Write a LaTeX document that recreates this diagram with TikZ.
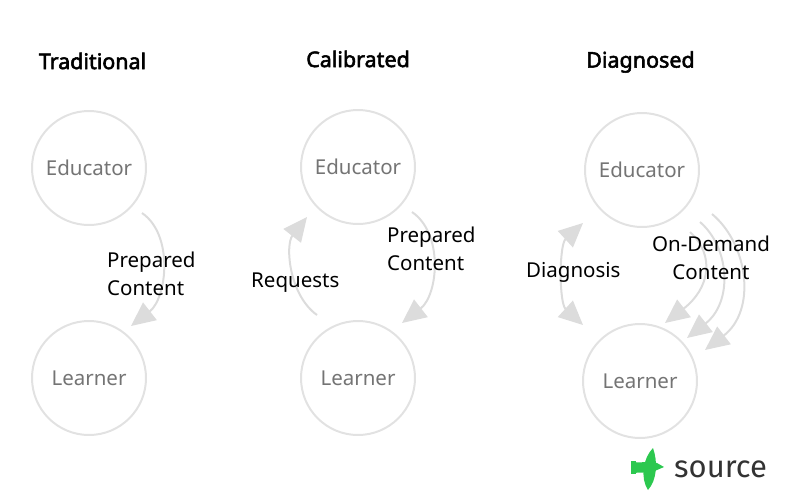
\documentclass[tikz,border=0pt]{standalone}
\usepackage{fontspec}
\setmainfont{Noto Sans}
\newfontfamily\headfont{Noto Sans}[FakeBold=2.5]
\newfontfamily\logofont{Fira Sans}
\usetikzlibrary{arrows.meta}
\definecolor{ringgray}{HTML}{E2E2E2}
\definecolor{arrowgray}{HTML}{DCDCDC}
\definecolor{rolegray}{HTML}{747474}
\definecolor{birdgreen}{HTML}{2CC84F}
\definecolor{logogray}{HTML}{333333}
\begin{document}
\begin{tikzpicture}[x=1pt,y=-1pt,
    role/.style={circle,draw=ringgray,line width=2pt,minimum size=114pt,inner sep=0pt,text=rolegray,font=\fontsize{20.5}{24}\selectfont},
    heading/.style={font=\headfont\fontsize{21.5}{24}\selectfont},
    note/.style={align=left,inner sep=0pt,font=\fontsize{20.5}{28}\selectfont},
    flow/.style={arrowgray,line width=2pt,-{Triangle[length=24pt,width=22pt]}}]
    \useasboundingbox (0,0) rectangle (800,501);
    % titles
    \node[heading] (title1) at (92.5,61) {Traditional};
    \node[heading] (title2) at (358,59) {Calibrated};
    \node[heading] (title3) at (640.5,62) {Diagnosed};
    % roles
    \node[role] (edu1) at (89,168) {Educator};
    \node[role] (lrn1) at (89,378) {Learner};
    \node[role] (edu2) at (358,167) {Educator};
    \node[role] (lrn2) at (358,378) {Learner};
    \node[role] (edu3) at (642,170) {Educator};
    \node[role] (lrn3) at (640,381) {Learner};
    % arrow ends
    \coordinate (p1s) at (142,213); \coordinate (p1e) at (131,326);
    \coordinate (p2s) at (412,212); \coordinate (p2e) at (402,323);
    \coordinate (r2s) at (317,315); \coordinate (r2e) at (307,217);
    \coordinate (d3s) at (583,325); \coordinate (d3e) at (583,223);
    \coordinate (o3as) at (690,232); \coordinate (o3ae) at (665,323);
    \coordinate (o3bs) at (700,222); \coordinate (o3be) at (687,338);
    \coordinate (o3cs) at (712,214); \coordinate (o3ce) at (705,350);
    \draw[flow] (p1s) .. controls +(32,22) and +(36,-28) .. (p1e);
    \draw[flow] (p2s) .. controls +(32,22) and +(36,-28) .. (p2e);
    \draw[flow] (r2s) .. controls +(-28,-20) and +(-22,28) .. (r2e);
    \draw[flow,{Triangle[length=24pt,width=22pt]}-{Triangle[length=24pt,width=22pt]}] (d3s) .. controls +(-24,-22) and +(-24,22) .. (d3e);
    \draw[flow] (o3as) .. controls +(26,24) and +(44,-34) .. (o3ae);
    \draw[flow] (o3bs) .. controls +(30,26) and +(46,-36) .. (o3be);
    \draw[flow] (o3cs) .. controls +(36,30) and +(52,-40) .. (o3ce);
    % labels
    \node[note,anchor=west] (prep1) at (107,274) {Prepared\\Content};
    \node[note,anchor=west] (prep2) at (387,249) {Prepared\\Content};
    \node[note,anchor=west] (req) at (251,283) {Requests};
    \node[note,anchor=west] (diag) at (526,272) {Diagnosis};
    \node[note,align=center] (ondemand) at (711,258) {On-Demand\\Content};
    % logo
    \fill[birdgreen] (653,448) .. controls (643,458) and (640,478) .. (648,490) .. controls (657,480) and (658,462) .. (653,448) -- cycle;
    \fill[birdgreen] (633,462) .. controls (642,463) and (650,461) .. (657,463) -- (664,467) -- (657,470) .. controls (650,474) and (642,472) .. (633,473) -- cycle;
    \fill[birdgreen] (631,461) rectangle (636,474);
    \node[font=\logofont\fontsize{31}{31}\selectfont,text=logogray,anchor=base west,inner sep=0pt] (brand) at (674,477) {source};
\end{tikzpicture}
\end{document}
